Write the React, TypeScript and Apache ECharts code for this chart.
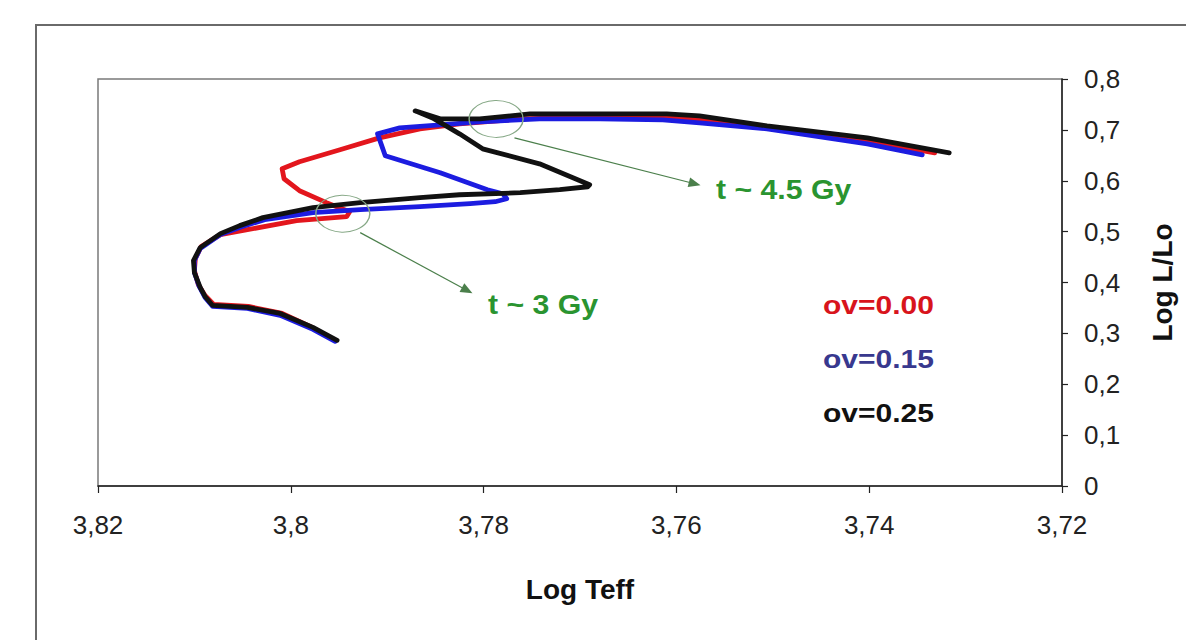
import React, { useEffect, useRef } from "react";
import * as echarts from "echarts";

// Log Teff, Log L/Lo pairs for each overshoot track
const ov000: [number, number][] = [
  [3.7956, 0.2882], [3.798, 0.3137], [3.8009, 0.3392], [3.8044, 0.3529], [3.808, 0.3569],
  [3.8089, 0.3745], [3.8096, 0.3961], [3.81, 0.4235], [3.8099, 0.4471], [3.8093, 0.4706],
  [3.8073, 0.4941], [3.8045, 0.5039], [3.7994, 0.5216], [3.7942, 0.5294], [3.7939, 0.5392],
  [3.7963, 0.5569], [3.7991, 0.5804], [3.8007, 0.6039], [3.8009, 0.6235], [3.7991, 0.6373],
  [3.7949, 0.6608], [3.7908, 0.6843], [3.7866, 0.702], [3.7825, 0.7118], [3.7762, 0.7216],
  [3.7679, 0.7255], [3.7614, 0.7255], [3.7576, 0.7216], [3.7506, 0.7039], [3.7402, 0.6784],
  [3.7332, 0.6549],
];
const ov015: [number, number][] = [
  [3.7954, 0.2843], [3.7977, 0.3078], [3.8011, 0.3353], [3.8045, 0.349], [3.8081, 0.3529],
  [3.8089, 0.3706], [3.8095, 0.3922], [3.81, 0.4196], [3.81, 0.4431], [3.8094, 0.4667],
  [3.8073, 0.4941], [3.8051, 0.5098], [3.8027, 0.5235], [3.7977, 0.5373], [3.7928, 0.5431],
  [3.7866, 0.549], [3.7814, 0.5549], [3.7788, 0.5588], [3.7776, 0.5647], [3.778, 0.5745],
  [3.7796, 0.5824], [3.7845, 0.6157], [3.7902, 0.649], [3.791, 0.6922], [3.7887, 0.7039],
  [3.7845, 0.7098], [3.7804, 0.7157], [3.7742, 0.7216], [3.7679, 0.7216], [3.7614, 0.7196],
  [3.7576, 0.7137], [3.7506, 0.702], [3.7402, 0.6725], [3.7345, 0.651],
];
const ov025: [number, number][] = [
  [3.7952, 0.2863], [3.7977, 0.3118], [3.8011, 0.3392], [3.8045, 0.351], [3.8081, 0.3549],
  [3.8089, 0.3725], [3.8094, 0.3902], [3.81, 0.4196], [3.8101, 0.4431], [3.8094, 0.4686],
  [3.8073, 0.4961], [3.8053, 0.5118], [3.8029, 0.5275], [3.7977, 0.5471], [3.7928, 0.5569],
  [3.7866, 0.5667], [3.7825, 0.5725], [3.7762, 0.5765], [3.7721, 0.5824], [3.7692, 0.5882],
  [3.769, 0.592], [3.7742, 0.6333], [3.7801, 0.6627], [3.7825, 0.6922], [3.7853, 0.7235],
  [3.7871, 0.7373], [3.7845, 0.7216], [3.7804, 0.7216], [3.7752, 0.7314], [3.7679, 0.7314],
  [3.761, 0.7314], [3.7576, 0.7275], [3.7506, 0.7078], [3.7402, 0.6843], [3.7317, 0.6549],
];

const seriesNames = ["ov=0.00", "ov=0.15", "ov=0.25"];
const seriesColors = ["#e3161d", "#1c1ce0", "#111111"];
const legendColors = ["#d8141c", "#38388e", "#111111"];

// circled epochs and arrows (data coordinates)
const epochCircles: [number, number][] = [[3.7787, 0.7216], [3.7946, 0.5353]];
const arrowStarts: [number, number][] = [[3.7768, 0.6843], [3.7928, 0.498]];
const arrowEnds: [number, number][] = [[3.7581, 0.5941], [3.7817, 0.3843]];
const epochLabels = ["t ~ 4.5 Gy", "t ~ 3 Gy"];

const xTicks = { min: 3.72, max: 3.82, interval: 0.02 };
const yTicks = { min: 0, max: 0.8, interval: 0.1 };

const fmt = (v: number) => String(Math.round(v * 100) / 100).replace(".", ",");

export default function App() {
  const ref = useRef<HTMLDivElement>(null);
  useEffect(() => {
    document.body.style.margin = "0";
    const chart = echarts.init(ref.current!, null, { renderer: "svg" });
    const font = "'Liberation Sans', Arial, sans-serif";
    const green = "#2a9430";
    const tracks = [ov000, ov015, ov025];
    const series: any[] = tracks.map((d, i) => ({
      name: seriesNames[i],
      type: "line",
      data: d,
      showSymbol: false,
      symbol: "none",
      smooth: false,
      lineStyle: { color: seriesColors[i], width: 4.8, join: "round", cap: "round" },
      itemStyle: { color: seriesColors[i] },
      z: 2 + i,
      silent: true,
    }));
    series.push({
      name: "annot",
      type: "line",
      data: [],
      silent: true,
      z: 10,
      markPoint: {
        silent: true,
        symbol: "circle",
        symbolSize: [54, 37],
        itemStyle: { color: "rgba(0,0,0,0)", borderColor: "#86a886", borderWidth: 1.2 },
        label: { show: false },
        data: epochCircles.map((c) => ({ coord: c })),
      },
      markLine: {
        silent: true,
        symbol: ["none", "triangle"],
        symbolSize: [10, 12],
        lineStyle: { color: "#4b7f4b", width: 1.2, type: "solid" },
        itemStyle: { color: "#2f8a2f" },
        label: { show: false },
        data: arrowStarts.map((s, i) => [{ coord: s }, { coord: arrowEnds[i] }]),
      },
    });

    chart.setOption({
      animation: false,
      backgroundColor: "#ffffff",
      grid: {
        left: 98, right: 124, top: 79, bottom: 154,
        show: true, borderColor: "#7a7a7a", borderWidth: 1.5, backgroundColor: "transparent",
      },
      xAxis: {
        type: "value",
        inverse: true,
        min: xTicks.min, max: xTicks.max, interval: xTicks.interval,
        name: "Log Teff",
        nameLocation: "middle",
        nameGap: 89,
        nameTextStyle: { fontFamily: font, fontWeight: "bold", fontSize: 28, color: "#111" },
        axisLine: { show: true, lineStyle: { color: "#222", width: 1.5 } },
        axisTick: { show: true, inside: false, length: 7, lineStyle: { color: "#222", width: 1.2 } },
        splitLine: { show: false },
        axisLabel: { fontFamily: font, fontSize: 26, color: "#222", margin: 26, formatter: fmt },
      },
      yAxis: {
        type: "value",
        position: "right",
        min: yTicks.min, max: yTicks.max, interval: yTicks.interval,
        name: "Log L/Lo",
        nameLocation: "middle",
        nameRotate: 90,
        nameGap: 86,
        nameTextStyle: { fontFamily: font, fontWeight: "bold", fontSize: 28, color: "#111" },
        axisLine: { show: true, lineStyle: { color: "#222", width: 1.5 } },
        axisTick: { show: true, inside: false, length: 6, lineStyle: { color: "#222", width: 1.2 } },
        splitLine: { show: false },
        axisLabel: { fontFamily: font, fontSize: 26, color: "#222", margin: 22, formatter: fmt },
      },
      series,
      graphic: [
        {
          type: "rect",
          shape: { x: 36, y: 25, width: 1300, height: 800 },
          style: { fill: "none", stroke: "#6a6a6a", lineWidth: 2 },
          silent: true,
          z: -1,
        },
        ...epochLabels.map((t, i) => ({
          type: "text",
          x: i === 0 ? 716 : 488,
          y: i === 0 ? 189 : 304,
          scaleX: 1.08,
          style: {
            text: t, fill: green, fontFamily: font, fontWeight: "bold", fontSize: 28,
            verticalAlign: "middle", align: "left",
          },
          silent: true,
        })),
        ...seriesNames.map((t, i) => ({
          type: "text",
          x: 823,
          y: 305 + i * 54,
          scaleX: 1.2,
          style: {
            text: t, fill: legendColors[i], fontFamily: font, fontWeight: "bold", fontSize: 25,
            verticalAlign: "middle", align: "left",
          },
          silent: true,
        })),
      ],
    });
    return () => chart.dispose();
  }, []);
  return <div ref={ref} style={{ position: "absolute", left: 0, top: 0, width: 1186, height: 640 }} />;
}
